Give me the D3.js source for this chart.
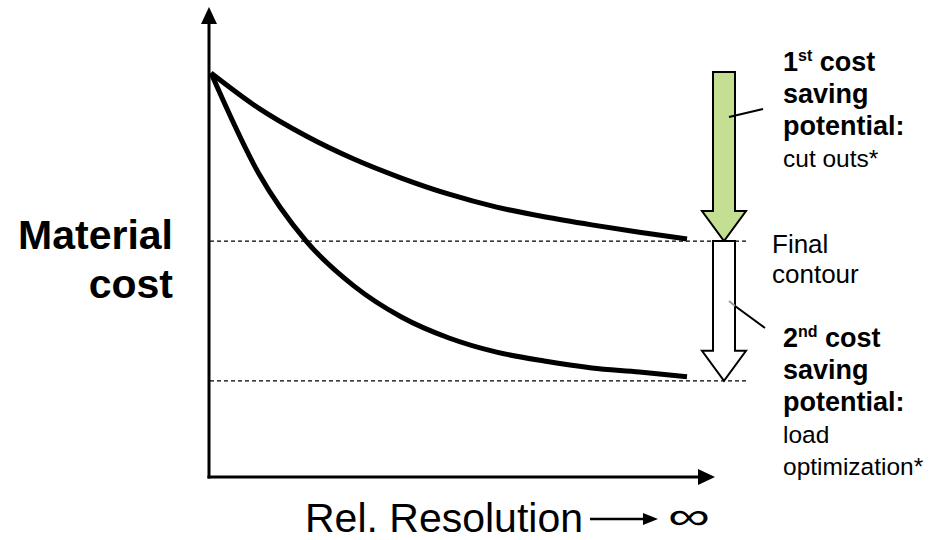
<!DOCTYPE html>
<html>
<head>
<meta charset="utf-8">
<script src="https://cdn.jsdelivr.net/npm/d3@7"></script>
<style>
  body { margin: 0; background: #fff; }
  text { font-family: "Liberation Sans", Arial, sans-serif; fill: #000; }
</style>
</head>
<body>
<svg id="chart" width="949" height="540"></svg>
<script>
// relative resolution steps (x) and material cost (y, % of the start value)
var resolution = [0, 1, 2, 3, 4, 5, 6, 7, 8, 9, 10]
var costCutOuts = [100, 91.3, 84.4, 78.7, 74.0, 70.0, 66.8, 64.4, 62.4, 60.6, 58.9]
var costLoadOpt = [100, 75.2, 58.4, 47.3, 39.6, 34.4, 30.9, 28.7, 27.0, 26.0, 24.8]
var levels = [58.4, 23.8]   // final contour, load optimized
var yLabel = ["Material", "cost"]
var xLabel = "Rel. Resolution"
var note1 = [["1", "st", " cost"], ["saving"], ["potential:"]]
var note1b = ["cut outs*"]
var note2 = [["2", "nd", " cost"], ["saving"], ["potential:"]]
var note2b = ["load", "optimization*"]
var finalLabel = ["Final", "contour"]

var svg = d3.select("#chart")

var x = d3.scaleLinear().domain([0, 10]).range([211, 687])
var y = d3.scaleLinear().domain([0, 100]).range([477, 73])

var x0 = 209, xEnd = 715, yBase = 477, yTop = 7
var arrowX = 724

// axes with arrow heads
svg.append("line")
    .attr("x1", x0).attr("y1", yBase + 1.5)
    .attr("x2", x0).attr("y2", yTop + 16)
    .attr("stroke", "black").attr("stroke-width", 3)
svg.append("path")
    .attr("d", "M" + x0 + "," + yTop + " L" + (x0 + 8) + "," + (yTop + 17) + " L" + (x0 - 8) + "," + (yTop + 17) + "Z")
    .attr("fill", "black")
svg.append("line")
    .attr("x1", x0 - 1.5).attr("y1", yBase)
    .attr("x2", xEnd - 16).attr("y2", yBase)
    .attr("stroke", "black").attr("stroke-width", 3)
svg.append("path")
    .attr("d", "M" + xEnd + "," + yBase + " L" + (xEnd - 17) + "," + (yBase - 8) + " L" + (xEnd - 17) + "," + (yBase + 8) + "Z")
    .attr("fill", "black")

// dashed level lines
svg.selectAll("line.level")
    .data(levels)
    .enter()
    .append("line")
    .attr("class", "level")
    .attr("x1", x0 + 1).attr("x2", 747)
    .attr("y1", function(d){return y(d)})
    .attr("y2", function(d){return y(d)})
    .attr("stroke", "black")
    .attr("stroke-width", 1.3)
    .attr("stroke-dasharray", "4,3")

// the two cost curves
var line = d3.line()
    .x(function(d){return x(d[0])})
    .y(function(d){return y(d[1])})
    .curve(d3.curveMonotoneX)

svg.selectAll("path.curve")
    .data([costCutOuts, costLoadOpt])
    .enter()
    .append("path")
    .attr("class", "curve")
    .attr("d", function(s){return line(resolution.map(function(r, i){return [r, s[i]]}))})
    .attr("fill", "none")
    .attr("stroke", "black")
    .attr("stroke-width", 5)

// block arrows between levels
function blockArrow(yStart, yTip, fill) {
    var hw = 11, hh = 22, headY = yTip - 30
    var p = "M" + (arrowX - hw) + "," + yStart +
        " L" + (arrowX + hw) + "," + yStart +
        " L" + (arrowX + hw) + "," + headY +
        " L" + (arrowX + hh) + "," + headY +
        " L" + arrowX + "," + yTip +
        " L" + (arrowX - hh) + "," + headY +
        " L" + (arrowX - hw) + "," + headY + "Z"
    svg.append("path")
        .attr("d", p)
        .attr("fill", fill)
        .attr("stroke", "black")
        .attr("stroke-width", 2)
        .attr("stroke-linejoin", "miter")
}
blockArrow(y(100) - 1, y(levels[0]), "#c4df91")
blockArrow(y(levels[0]), y(levels[1]), "#ffffff")

// leader lines
svg.append("line")
    .attr("x1", 729).attr("y1", 117).attr("x2", 763).attr("y2", 109)
    .attr("stroke", "black").attr("stroke-width", 2)
svg.append("line")
    .attr("x1", 729).attr("y1", 301).attr("x2", 735).attr("y2", 306)
    .attr("stroke", "#999").attr("stroke-width", 2)
svg.append("line")
    .attr("x1", 735).attr("y1", 306).attr("x2", 765).attr("y2", 328)
    .attr("stroke", "black").attr("stroke-width", 2)

// y label
svg.selectAll("text.ylab")
    .data(yLabel)
    .enter()
    .append("text")
    .attr("class", "ylab")
    .attr("x", 173)
    .attr("y", function(d,i){return 249 + i * 49})
    .attr("text-anchor", "end")
    .attr("font-size", "41px")
    .attr("font-weight", "bold")
    .text(function(d){return d})

// x label with arrow to infinity
svg.append("text")
    .attr("x", 305).attr("y", 532)
    .attr("font-size", "41px")
    .text(xLabel)
svg.append("line")
    .attr("x1", 590).attr("y1", 519).attr("x2", 645).attr("y2", 519)
    .attr("stroke", "black").attr("stroke-width", 2.5)
svg.append("path")
    .attr("d", "M658,519 L643,513 L643,525 Z")
    .attr("fill", "black")
svg.append("text")
    .attr("transform", "translate(668,529) scale(1.55,1)")
    .attr("font-size", "38px")
    .text("\u221e")

// right side notes
function note(lines, extra, x0, y0, step) {
    var g = svg.append("g")
    lines.forEach(function(parts, i){
        var t = g.append("text")
            .attr("x", x0).attr("y", y0 + i * step)
            .attr("font-size", "27px")
            .attr("font-weight", "bold")
        parts.forEach(function(p, j){
            var ts = t.append("tspan").text(p)
            if (j == 1) ts.attr("font-size", "16px").attr("dy", -10)
            if (j == 2) ts.attr("dy", 10)
        })
    })
    extra.forEach(function(s, i){
        g.append("text")
            .attr("x", x0).attr("y", y0 + (lines.length + i) * step)
            .attr("font-size", "24.5px")
            .text(s)
    })
}
note(note1, note1b, 783, 71, 32)
note(note2, note2b, 783, 347, 32)

svg.selectAll("text.final")
    .data(finalLabel)
    .enter()
    .append("text")
    .attr("class", "final")
    .attr("x", 772)
    .attr("y", function(d,i){return 253 + i * 30})
    .attr("font-size", "26px")
    .text(function(d){return d})
</script>
</body>
</html>
